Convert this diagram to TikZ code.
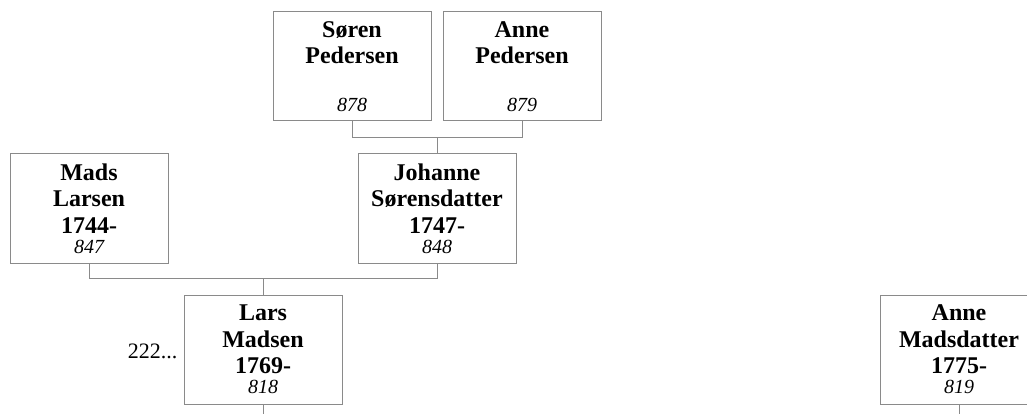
\documentclass[tikz,border=0pt]{standalone}
\usepackage{fontspec}
\setmainfont{Liberation Serif}
\usepackage{tikz}
\usetikzlibrary{positioning, calc}
\definecolor{boxGrey}{HTML}{8A8A8A}
\newcommand{\refno}[1]{{\mdseries\itshape\fontsize{20}{22}\selectfont #1}}

\begin{document}
\begin{tikzpicture}[
  font=\fontsize{24}{26.5}\selectfont\bfseries,
  person/.style={draw=boxGrey, line width=1pt, minimum width=158pt, minimum height=109pt,
                 align=center, inner sep=0pt},
  link/.style={draw=boxGrey, line width=1pt}
]
\clip (0,0) rectangle (1027pt,-414pt);
\useasboundingbox (0,0) rectangle (1027pt,-414pt);

\node[person] (soren) at (352pt,-66.5pt) {Søren\\ Pedersen\\ \mbox{}\\[-5pt] \refno{878}};
\node[person, right=11pt of soren] (anneP) {Anne\\ Pedersen\\ \mbox{}\\[-5pt] \refno{879}};

\node[person, below=32pt of $(soren.south)!0.5!(anneP.south)$] (johanne)
  {Johanne\\ Sørensdatter\\ 1747-\\[-6.5pt] \refno{848}};
\node[person, left=189pt of johanne] (mads) {Mads\\ Larsen\\ 1744-\\[-6.5pt] \refno{847}};

\node[person, below=31pt of $(mads.south)!0.5!(johanne.south)$] (lars)
  {Lars\\ Madsen\\ 1769-\\[-6.5pt] \refno{818}};
\node[person, right=537pt of lars] (anneM) {Anne\\ Madsdatter\\ 1775-\\[-6.5pt] \refno{819}};

\node[left=6pt of lars, yshift=-2pt, inner sep=0pt, font=\fontsize{22}{24}\selectfont] (more) {222...};

\coordinate (top) at ($(soren.south)!0.5!(anneP.south)+(0,-16pt)$);
\coordinate (mid) at ($(mads.south)!0.5!(johanne.south)+(0,-15pt)$);
\coordinate (larsout) at ($(lars.south)+(0,-12pt)$);
\coordinate (anneout) at ($(anneM.south)+(0,-12pt)$);

\draw[link] (soren.south) |- (top) -| (anneP.south);
\draw[link] (top) -- (johanne.north);
\draw[link] (mads.south) |- (mid) -| (johanne.south);
\draw[link] (mid) -- (lars.north);
\draw[link] (lars.south) -- (larsout);
\draw[link] (anneM.south) -- (anneout);
\end{tikzpicture}
\end{document}
